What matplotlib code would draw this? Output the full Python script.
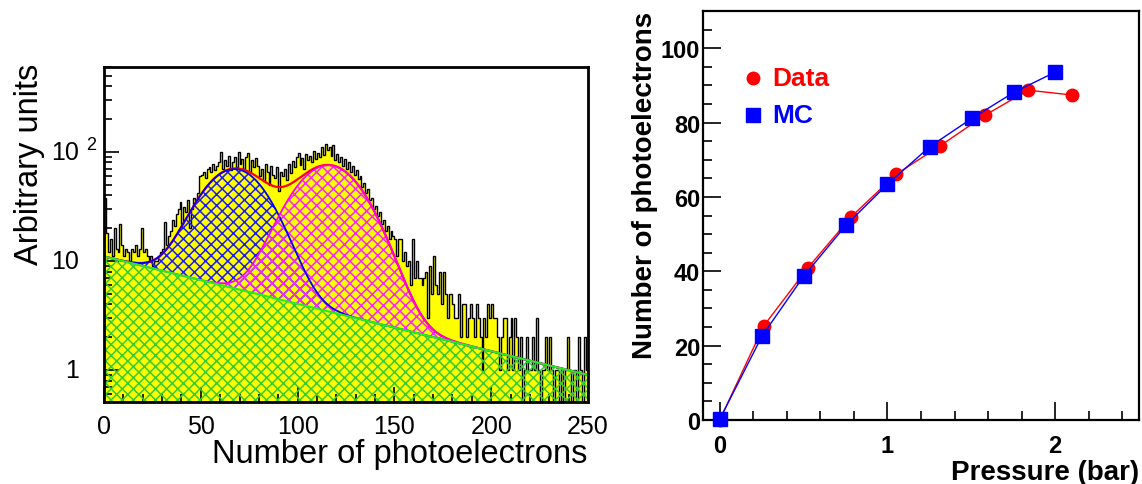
import numpy as np
import matplotlib
matplotlib.use("Agg")
import matplotlib.pyplot as plt
from matplotlib.ticker import FixedLocator, NullFormatter, MultipleLocator

plt.rcParams['font.family'] = ['Liberation Sans', 'DejaVu Sans']
plt.rcParams['hatch.linewidth'] = 1.1

# ---- left panel: photoelectron spectrum (1 p.e. bins, 0-250) ----
npe_counts = [
    38, 18, 12, 16, 11, 20, 13, 12, 22, 14,
    11, 13, 12, 10, 13, 12, 14, 11, 13, 20,
    12, 13, 11, 10, 11, 9, 10, 10, 11, 12,
    13, 23, 14, 17, 19, 24, 21, 27, 30, 35,
    22, 31, 28, 36, 20, 30, 38, 36, 42, 60,
    62, 65, 58, 70, 72, 66, 78, 68, 75, 80,
    100, 70, 85, 74, 92, 68, 80, 90, 72, 100,
    78, 86, 70, 90, 97, 66, 84, 72, 88, 75,
    60, 70, 54, 78, 65, 50, 75, 62, 58, 72,
    44, 66, 60, 70, 55, 78, 64, 82, 72, 90,
    98, 76, 88, 70, 96, 84, 92, 80, 102, 86,
    98, 90, 110, 94, 118, 104, 112, 92, 116, 84,
    96, 80, 90, 74, 86, 70, 80, 66, 74, 62,
    68, 56, 60, 48, 52, 42, 46, 36, 38, 30,
    32, 26, 28, 22, 24, 19, 21, 16, 19, 17,
    16, 11, 16, 16, 10, 12, 9, 10, 6, 16,
    7, 10, 7, 7, 6, 7, 8, 3, 9, 5,
    11, 6, 5, 8, 4, 8, 5, 3, 5, 5,
    4, 3, 3, 5, 2, 4, 4, 2, 3, 4,
    3, 2, 4, 3, 2, 1, 3, 2, 4, 3,
    4, 3, 3, 2, 1, 2, 3, 3, 1, 2,
    3, 1, 3, 2, 1, 2, 0, 1, 2, 1,
    1, 2, 1, 3, 1, 0, 1, 1, 2, 1,
    2, 1, 0, 1, 1, 0, 1, 0, 1, 2,
    1, 0, 1, 1, 0, 2, 1, 0, 2, 1,
]
bin_edges = np.arange(0, 251, 1)

# fit parameters
bg_norm, bg_decay = 11.0, 100.0          # exponential background
g1_amp, g1_mean, g1_sigma = 64.0, 67.5, 15.5
g2_amp, g2_mean, g2_sigma = 72.0, 116.0, 16.5

# ---- right panel: mean photoelectrons vs pressure ----
pressure_data = [0.0, 0.262, 0.527, 0.785, 1.052, 1.316, 1.579, 1.839, 2.101]
npe_data = [0.0, 25.3, 41.0, 54.7, 66.1, 73.8, 81.9, 88.7, 87.4]
pressure_mc = [0.0, 0.252, 0.501, 0.753, 1.0, 1.252, 1.503, 1.753, 2.002]
npe_mc = [0.2, 22.6, 38.7, 52.4, 63.4, 73.5, 81.1, 88.1, 93.6]

W, H = 1142, 485
fig = plt.figure(figsize=(W / 100, H / 100), dpi=100)


def fx(px):
    return px / W


def fy(py):
    return 1 - py / H


# ===== left =====
ax1 = fig.add_axes([fx(104), fy(403), (588 - 104) / W, (403 - 68) / H])
base = 0.3
counts = np.array(npe_counts, dtype=float)
shown = np.where(counts > 0, counts, base)
ax1.stairs(shown, bin_edges, baseline=base, fill=True, color='#ffff00', zorder=1)
ax1.stairs(shown, bin_edges, baseline=base, color='black', lw=1.0, zorder=2)

x = np.linspace(0, 250, 1001)
bg = bg_norm * np.exp(-x / bg_decay)
g1 = g1_amp * np.exp(-0.5 * ((x - g1_mean) / g1_sigma) ** 2)
g2 = g2_amp * np.exp(-0.5 * ((x - g2_mean) / g2_sigma) ** 2)

ax1.fill_between(x, base, bg, facecolor='none', edgecolor='#33cc33',
                 hatch='xxx', linewidth=0, zorder=3)
ax1.fill_between(x, bg, bg + g1, facecolor='none', edgecolor='#1a1aff',
                 hatch='xxx', linewidth=0, zorder=3)
ax1.fill_between(x, bg, bg + g2, facecolor='none', edgecolor='#ff22ff',
                 hatch='xxx', linewidth=0, zorder=3)

ax1.plot(x, bg + g1 + g2, color='#ff0000', lw=1.6, zorder=4)
ax1.plot(x, bg + g1, color='#0000ff', lw=1.3, zorder=5)
ax1.plot(x, bg + g2, color='#ff00ff', lw=1.3, zorder=5)
ax1.plot(x, bg, color='#22ee22', lw=1.5, zorder=6)

ax1.set_yscale('log')
ax1.set_xlim(0, 250)
ax1.set_ylim(0.51, 600)
ax1.xaxis.set_major_locator(MultipleLocator(50))
ax1.xaxis.set_minor_locator(MultipleLocator(10))
ax1.yaxis.set_major_locator(FixedLocator([1, 10, 100]))
minors = [m * 10.0 ** d for d in (-1, 0, 1, 2) for m in range(2, 10)]
ax1.yaxis.set_minor_locator(FixedLocator(minors))
ax1.yaxis.set_major_formatter(NullFormatter())
ax1.yaxis.set_minor_formatter(NullFormatter())
ax1.tick_params(which='both', direction='in', top=False, right=False, width=1.2)
ax1.tick_params(which='major', length=11)
ax1.tick_params(which='minor', length=6)
ax1.tick_params(axis='x', which='major', labelsize=18, pad=9)
for s in ax1.spines.values():
    s.set_linewidth(2)
    s.set_zorder(10)

# log labels in ROOT style
lab_x = (79 - 104) / (588 - 104)
tr = ax1.get_yaxis_transform()
ax1.text(lab_x, 1, '1', transform=tr, ha='right', va='center', fontsize=18)
ax1.text(lab_x, 10, '10', transform=tr, ha='right', va='center', fontsize=18)
ax1.text(lab_x, 100, '10', transform=tr, ha='right', va='center', fontsize=18)
ax1.text((86 - 104) / (588 - 104), 118, '2', transform=tr, ha='left',
         va='center', fontsize=13)

fig.text(fx(587), fy(463), 'Number of photoelectrons', ha='right',
         va='baseline', fontsize=23.5)
fig.text(fx(30), fy(64), 'Arbitrary units', rotation=90, ha='center',
         va='top', fontsize=23.5)

# ===== right =====
ax2 = fig.add_axes([fx(703), fy(421), (1139 - 703) / W, (421 - 12) / H])
ax2.plot(pressure_data, npe_data, color='#ff0000', lw=1, marker='o',
         markersize=9, clip_on=False, zorder=3)
ax2.plot(pressure_mc, npe_mc, color='#0000ff', lw=1, marker='s',
         markersize=9.5, clip_on=False, zorder=4)
ax2.set_xlim(-0.1, 2.5)
ax2.set_ylim(0, 110)
ax2.xaxis.set_major_locator(FixedLocator([0, 1, 2]))
ax2.xaxis.set_minor_locator(MultipleLocator(0.2))
ax2.yaxis.set_major_locator(MultipleLocator(20))
ax2.yaxis.set_minor_locator(MultipleLocator(5))
ax2.tick_params(which='both', direction='in', top=False, right=False, width=1.2)
ax2.tick_params(which='major', length=13)
ax2.tick_params(which='minor', length=6.5)
ax2.tick_params(axis='y', which='major', pad=2, labelsize=17)
ax2.tick_params(axis='x', which='major', pad=10, labelsize=17)
for lab in ax2.get_xticklabels() + ax2.get_yticklabels():
    lab.set_fontweight('bold')
for s in ax2.spines.values():
    s.set_linewidth(1.6)

# legend
ax2.plot([0.115], [0.836], 'o', color='#ff0000', markersize=9,
         transform=ax2.transAxes)
ax2.text(0.158, 0.836, 'Data', color='#ff0000', fontsize=19, fontweight='bold',
         transform=ax2.transAxes, va='center', ha='left')
ax2.plot([0.115], [0.746], 's', color='#0000ff', markersize=9.5,
         transform=ax2.transAxes)
ax2.text(0.158, 0.746, 'MC', color='#0000ff', fontsize=19, fontweight='bold',
         transform=ax2.transAxes, va='center', ha='left')

fig.text(fx(645), fy(12), 'Number of photoelectrons', rotation=90,
         ha='center', va='top', fontsize=20, fontweight='bold')
fig.text(fx(1139), fy(473), 'Pressure (bar)', ha='right', va='center',
         fontsize=20, fontweight='bold')

fig.savefig('out.png', dpi=100)
